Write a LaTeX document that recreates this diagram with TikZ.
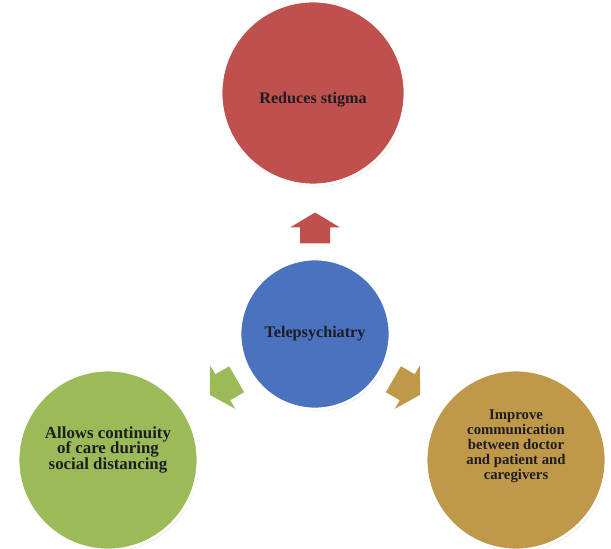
\documentclass[tikz,border=0pt]{standalone}
\usepackage{fontspec}
\setmainfont{Liberation Serif}
\usetikzlibrary{shadows}

\definecolor{stigmared}{RGB}{192,80,77}
\definecolor{teleblue}{RGB}{74,114,190}
\definecolor{careolive}{RGB}{155,187,89}
\definecolor{commgold}{RGB}{192,152,74}
\definecolor{inktext}{RGB}{28,28,34}

\begin{document}
\begin{tikzpicture}[
    bubble/.style={circle, draw=white, line width=1.6pt, inner sep=0pt,
        drop shadow={shadow xshift=0.6pt, shadow yshift=-0.9pt, opacity=0.28}},
    caption/.style={align=center, text=inktext, inner sep=0pt},
    blockarrow/.style={draw=none}
]

        \useasboundingbox (0,0) rectangle (12.22,-10.98);

        % Nodo central
        \node[bubble, fill=teleblue, minimum size=3.0cm] (tele) at (6.30,-6.68) {};
        \node[caption, font=\bfseries\fontsize{9.2}{9.5}\selectfont] (tele-text) at (tele.center) {Telepsychiatry};

        % Ventajas alrededor
        \node[bubble, fill=stigmared, minimum size=3.68cm] (stigma) at (6.26,-1.86) {};
        \node[caption, font=\bfseries\fontsize{9.2}{9.5}\selectfont] (stigma-text)
              at ([yshift=-0.14cm]stigma.center) {Reduces stigma};

        \node[bubble, fill=careolive, minimum size=3.6cm] (care) at (2.16,-9.20) {};
        \node[caption, font=\bfseries\fontsize{9.6}{9.1}\selectfont] (care-text)
              at ([yshift=0.2cm]care.center) {Allows continuity\\of care during\\social distancing};

        \node[bubble, fill=commgold, minimum size=3.6cm] (comm) at (10.32,-9.20) {};
        \node[caption, font=\bfseries\fontsize{8.4}{8.5}\selectfont] (comm-text)
              at ([yshift=0.28cm]comm.center)
              {Improve\\communication\\between doctor\\and patient and\\caregivers};

        % Flechas hacia afuera
        \foreach \ang/\col in {90/stigmared, 210/careolive, -30/commgold} {
            \begin{scope}[shift={(tele.center)}, rotate=\ang, xshift=2.12cm]
                \fill[blockarrow, \col] (-0.31,-0.3) -- (0.01,-0.3) -- (0.01,-0.5)
                    -- (0.31,0) -- (0.01,0.5) -- (0.01,0.3) -- (-0.31,0.3) -- cycle;
            \end{scope}
        }

\end{tikzpicture}
\end{document}
